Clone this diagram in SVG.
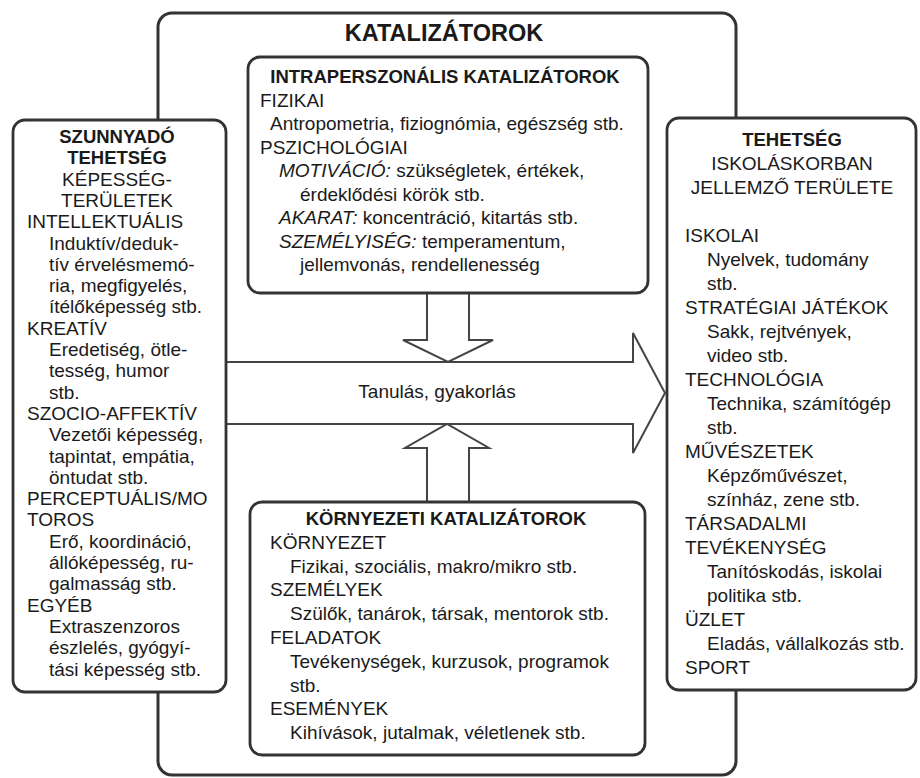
<svg xmlns="http://www.w3.org/2000/svg" width="920" height="778" viewBox="0 0 920 778">
<style>
.box{fill:#fff;stroke:#333;stroke-width:2.8}
.outer{fill:none;stroke:#333;stroke-width:3}
.conn{fill:#fff;stroke:#444;stroke-width:2}
text{font-family:"Liberation Sans",Arial,sans-serif;font-size:19px;fill:#1a1a1a}
.b{font-weight:bold;font-size:18.5px}
.c{text-anchor:middle}
.i{font-style:italic}
.title{font-size:23.5px;font-weight:bold}
</style>
<rect width="920" height="778" fill="#fff"/>
<g id="katalizatorok">
<rect class="outer" x="158" y="13" width="578" height="762" rx="14"/>
<text class="title c" x="444" y="41">KATALIZÁTOROK</text>
</g>
<g id="connectors">
<path class="conn" d="M226 362 H633 V333 L665 393 L633 453 V424 H226"/>
<path class="conn" d="M427 293 V340 H403 L448 362 L493 340 H469 V293"/>
<path class="conn" d="M427 502 V448 H405 L447 424 L489 448 H469 V502"/>
<text class="c" x="437" y="398">Tanulás, gyakorlás</text>
</g>
<g id="intraperszonalis">
<rect class="box" x="248" y="57" width="400" height="236" rx="12"/>
<text class="b c" x="445" y="83">INTRAPERSZONÁLIS KATALIZÁTOROK</text>
<text x="260" y="106.5">FIZIKAI</text>
<text x="270" y="130">Antropometria, fiziognómia, egészség stb.</text>
<text x="260" y="153.5">PSZICHOLÓGIAI</text>
<text x="279" y="177"><tspan class="i">MOTIVÁCIÓ:</tspan> szükségletek, értékek,</text>
<text x="300" y="200.5">érdeklődési körök stb.</text>
<text x="279" y="224"><tspan class="i">AKARAT:</tspan> koncentráció, kitartás stb.</text>
<text x="279" y="247.5"><tspan class="i">SZEMÉLYISÉG:</tspan> temperamentum,</text>
<text x="300" y="271">jellemvonás, rendellenesség</text>
</g>
<g id="kornyezeti">
<rect class="box" x="250" y="502" width="395" height="253" rx="12"/>
<text class="b c" x="446" y="525">KÖRNYEZETI KATALIZÁTOROK</text>
<text x="270" y="548.8">KÖRNYEZET</text>
<text x="290" y="572.6">Fizikai, szociális, makro/mikro stb.</text>
<text x="270" y="596.4">SZEMÉLYEK</text>
<text x="290" y="620.2">Szülők, tanárok, társak, mentorok stb.</text>
<text x="270" y="644">FELADATOK</text>
<text x="290" y="667.8">Tevékenységek, kurzusok, programok</text>
<text x="290" y="691.6">stb.</text>
<text x="270" y="715.4">ESEMÉNYEK</text>
<text x="290" y="739.2">Kihívások, jutalmak, véletlenek stb.</text>
</g>
<g id="szunnyado">
<rect class="box" x="13" y="120" width="213" height="572" rx="12"/>
<text class="b c" x="117" y="143">SZUNNYADÓ</text>
<text class="b c" x="117" y="164.3">TEHETSÉG</text>
<text class="c" x="117" y="185.6">KÉPESSÉG-</text>
<text class="c" x="117" y="206.9">TERÜLETEK</text>
<text x="27" y="228.2">INTELLEKTUÁLIS</text>
<text x="49" y="249.5">Induktív/deduk-</text>
<text x="49" y="270.8">tív érvelésmemó-</text>
<text x="49" y="292.1">ria, megfigyelés,</text>
<text x="49" y="313.4">ítélőképesség stb.</text>
<text x="27" y="334.7">KREATÍV</text>
<text x="49" y="356">Eredetiség, ötle-</text>
<text x="49" y="377.3">tesség, humor</text>
<text x="49" y="398.6">stb.</text>
<text x="27" y="419.9">SZOCIO-AFFEKTÍV</text>
<text x="49" y="441.2">Vezetői képesség,</text>
<text x="49" y="462.5">tapintat, empátia,</text>
<text x="49" y="483.8">öntudat stb.</text>
<text x="27" y="505.1">PERCEPTUÁLIS/MO</text>
<text x="27" y="526.4">TOROS</text>
<text x="49" y="547.7">Erő, koordináció,</text>
<text x="49" y="569">állóképesség, ru-</text>
<text x="49" y="590.3">galmasság stb.</text>
<text x="27" y="611.6">EGYÉB</text>
<text x="49" y="632.9">Extraszenzoros</text>
<text x="49" y="654.2">észlelés, gyógyí-</text>
<text x="49" y="675.5">tási képesség stb.</text>
</g>
<g id="tehetseg">
<rect class="box" x="667" y="118" width="249" height="572" rx="12"/>
<text class="b c" x="792" y="146">TEHETSÉG</text>
<text class="c" x="792" y="170">ISKOLÁSKORBAN</text>
<text class="c" x="792" y="194">JELLEMZŐ TERÜLETE</text>
<text x="685" y="242">ISKOLAI</text>
<text x="707" y="266">Nyelvek, tudomány</text>
<text x="707" y="290">stb.</text>
<text x="685" y="314">STRATÉGIAI JÁTÉKOK</text>
<text x="707" y="338">Sakk, rejtvények,</text>
<text x="707" y="362">video stb.</text>
<text x="685" y="386">TECHNOLÓGIA</text>
<text x="707" y="410">Technika, számítógép</text>
<text x="707" y="434">stb.</text>
<text x="685" y="458">MŰVÉSZETEK</text>
<text x="707" y="482">Képzőművészet,</text>
<text x="707" y="506">színház, zene stb.</text>
<text x="685" y="530">TÁRSADALMI</text>
<text x="685" y="554">TEVÉKENYSÉG</text>
<text x="707" y="578">Tanítóskodás, iskolai</text>
<text x="707" y="602">politika stb.</text>
<text x="685" y="626">ÜZLET</text>
<text x="707" y="650">Eladás, vállalkozás stb.</text>
<text x="685" y="674">SPORT</text>
</g>
</svg>
